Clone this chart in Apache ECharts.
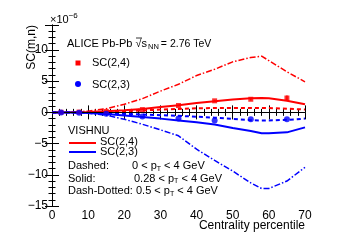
<!DOCTYPE html>
<html><head><meta charset="utf-8">
<script src="https://cdn.jsdelivr.net/npm/echarts@6/dist/echarts.min.js"></script>
<style>html,body{margin:0;padding:0;background:#fff}#c{width:339px;height:243px}</style>
</head><body><div id="c"></div>
<script>
// ALICE data
const centrality = [2.5, 7.5, 15, 25, 35, 45, 55, 65];
const sc24 = [0.02, 0.05, 0.15, 0.45, 1.1, 1.85, 2.1, 2.3];
const sc24Err = [0.02, 0.03, 0.05, 0.08, 0.12, 0.15, 0.2, 0.4];
const sc23 = [0, -0.05, -0.2, -0.65, -1.0, -1.3, -1.1, -1.1];
// VISHNU model curves
const modelX = [0, 5, 10, 15, 20, 25, 30, 35, 40, 45, 50, 55, 58, 60, 65, 70];
const sc24DashDot = [0, 0.05, 0.2, 0.6, 1.3, 2.2, 3.4, 4.5, 5.9, 6.9, 8.1, 8.8, 9.0, 8.3, 6.5, 4.9];
const sc24Solid = [0, 0.02, 0.08, 0.2, 0.35, 0.55, 0.85, 1.15, 1.5, 1.8, 2.05, 2.25, 2.3, 2.25, 1.85, 1.3];
const sc24Dashed = [0, 0.01, 0.05, 0.12, 0.2, 0.3, 0.45, 0.55, 0.65, 0.7, 0.72, 0.72, 0.71, 0.7, 0.6, 0.45];
const sc23Dashed = [0, -0.01, -0.05, -0.12, -0.25, -0.35, -0.45, -0.55, -0.7, -0.85, -1.05, -1.25, -1.3, -1.3, -1.2, -1.0];
const sc23Solid = [0, -0.02, -0.1, -0.25, -0.5, -0.75, -1.0, -1.3, -1.6, -1.95, -2.5, -3.0, -3.35, -3.35, -3.2, -2.4];
const sc23DashDot = [0, -0.02, -0.15, -0.45, -1.1, -1.9, -2.8, -3.75, -5.9, -7.7, -9.4, -11.3, -12.2, -12.2, -11.0, -8.8];
const xTicks = [0, 10, 20, 30, 40, 50, 60, 70];
const yTicks = [-15, -10, -5, 0, 5, 10];

const RED = '#ff0000', BLUE = '#0000ff';
const FONT = 'Liberation Sans';
const pairs = (xs, ys) => xs.map((x, i) => [x, ys[i]]);
const DASH = [4, 3], DASHDOT = [6, 2, 1.5, 2];

function axisCommon(showLabel) {
  return {
    axisLine: {show: true, lineStyle: {color: '#000', width: 1}},
    axisTick: {show: true, inside: true, length: 7, lineStyle: {color: '#000'}},
    minorTick: {show: true, splitNumber: 5, length: 3.5, lineStyle: {color: '#000'}},
    splitLine: {show: false},
    axisLabel: {show: showLabel, color: '#000', fontFamily: FONT, fontSize: 12},
  };
}
const yFmt = v => (yTicks.includes(v) ? String(v).replace('-', '\u2212') : '');
const xFmt = v => (xTicks.includes(v) ? String(v) : '');

function lineSeries(ys, color, type, width) {
  return {type: 'line', data: pairs(modelX, ys), symbol: 'none', smooth: false,
    lineStyle: {color: color, type: type, width: width}, z: 3, silent: true};
}

const chart = echarts.init(document.getElementById('c'), null, {renderer: 'canvas'});
chart.setOption({
  animation: false,
  grid: {left: 52, right: 34, top: 25, bottom: 37},
  xAxis: [
    Object.assign(axisCommon(true), {type: 'value', min: 0, max: 70, interval: 10, position: 'bottom',
      axisLabel: {show: true, color: '#000', fontFamily: FONT, fontSize: 12, margin: 4, formatter: xFmt}}),
    Object.assign(axisCommon(false), {type: 'value', min: 0, max: 70, interval: 10, position: 'top'})
  ],
  yAxis: [
    Object.assign(axisCommon(true), {type: 'value', min: -15, max: 14, interval: 5, position: 'left',
      axisLabel: {show: true, color: '#000', fontFamily: FONT, fontSize: 12, margin: 4, formatter: yFmt, showMaxLabel: false}}),
    Object.assign(axisCommon(false), {type: 'value', min: -15, max: 14, interval: 5, position: 'right'})
  ],
  series: [
    {type: 'line', data: [], markLine: {silent: true, symbol: 'none', label: {show: false},
      lineStyle: {color: '#000', type: 'solid', width: 1}, data: [{yAxis: 0}]}},
    lineSeries(sc24DashDot, RED, DASHDOT, 1.5),
    lineSeries(sc24Solid, RED, 'solid', 2),
    lineSeries(sc24Dashed, RED, DASH, 2),
    lineSeries(sc23Dashed, BLUE, DASH, 2),
    lineSeries(sc23Solid, BLUE, 'solid', 2),
    lineSeries(sc23DashDot, BLUE, DASHDOT, 1.5),
    {type: 'custom', silent: true, z: 4,
      data: centrality.map((x, i) => [x, sc24[i] - sc24Err[i], sc24[i] + sc24Err[i]]),
      renderItem: (params, api) => {
        const lo = api.coord([api.value(0), api.value(1)]);
        const hi = api.coord([api.value(0), api.value(2)]);
        return {type: 'line', shape: {x1: lo[0], y1: lo[1], x2: hi[0], y2: hi[1]},
          style: {stroke: RED, lineWidth: 1.5}};
      }},
    {type: 'scatter', data: pairs(centrality, sc24), symbol: 'rect', symbolSize: 5,
      itemStyle: {color: RED}, z: 5, silent: true},
    {type: 'scatter', data: pairs(centrality, sc23), symbol: 'circle', symbolSize: 6,
      itemStyle: {color: BLUE}, z: 5, silent: true}
  ],
  graphic: [
    // axis titles
    {type: 'text', x: 305, y: 226, style: {text: 'Centrality percentile', font: '12px "Liberation Sans"',
      fill: '#000', align: 'right', verticalAlign: 'middle'}},
    {type: 'text', x: 32, y: 25, rotation: Math.PI / 2, style: {text: 'SC(m,n)', font: '12px "Liberation Sans"',
      fill: '#000', align: 'right', verticalAlign: 'middle'}},
    {type: 'text', x: 50, y: 20, style: {text: '\u00d710{s|\u22126}', fill: '#000', verticalAlign: 'middle',
      font: '11px "Liberation Sans"', rich: {s: {fontSize: 8, fontFamily: FONT, verticalAlign: 'top', padding: [0, 0, 8, 0]}}}},
    // ALICE header
    {type: 'text', x: 67, y: 44, style: {text: 'ALICE Pb-Pb \u221a{i|s}{sub|NN}{b|= 2.76 TeV}', fill: '#000',
      verticalAlign: 'middle', font: '11px "Liberation Sans"',
      rich: {i: {fontSize: 11, fontFamily: FONT},
             sub: {fontSize: 7.5, fontFamily: FONT, padding: [6, 2, 0, 1]},
             b: {fontSize: 10.5, fontFamily: FONT}}}},
    {type: 'line', shape: {x1: 136, y1: 38, x2: 142, y2: 38}, style: {stroke: '#000', lineWidth: 0.8}},
    {type: 'rect', shape: {x: 75.5, y: 60.5, width: 5, height: 5}, style: {fill: RED}},
    {type: 'text', x: 92, y: 63, style: {text: 'SC(2,4)', fill: '#000', verticalAlign: 'middle', font: '11px "Liberation Sans"'}},
    {type: 'circle', shape: {cx: 78, cy: 84, r: 3}, style: {fill: BLUE}},
    {type: 'text', x: 92, y: 85, style: {text: 'SC(2,3)', fill: '#000', verticalAlign: 'middle', font: '11px "Liberation Sans"'}},
    // VISHNU legend
    {type: 'text', x: 68, y: 131, style: {text: 'VISHNU', fill: '#000', verticalAlign: 'middle', font: '11px "Liberation Sans"'}},
    {type: 'line', shape: {x1: 69, y1: 143, x2: 96, y2: 143}, style: {stroke: RED, lineWidth: 2}},
    {type: 'text', x: 100, y: 142, style: {text: 'SC(2,4)', fill: '#000', verticalAlign: 'middle', font: '11px "Liberation Sans"'}},
    {type: 'line', shape: {x1: 69, y1: 152, x2: 96, y2: 152}, style: {stroke: BLUE, lineWidth: 2}},
    {type: 'text', x: 100, y: 152, style: {text: 'SC(2,3)', fill: '#000', verticalAlign: 'middle', font: '11px "Liberation Sans"'}},
    {type: 'text', x: 68, y: 166, style: {text: 'Dashed:', fill: '#000', verticalAlign: 'middle', font: '11px "Liberation Sans"'}},
    {type: 'text', x: 68, y: 178.5, style: {text: 'Solid:', fill: '#000', verticalAlign: 'middle', font: '11px "Liberation Sans"'}},
    {type: 'text', x: 68, y: 191, style: {text: 'Dash-Dotted:', fill: '#000', verticalAlign: 'middle', font: '11px "Liberation Sans"'}},
    {type: 'text', x: 132, y: 166, style: {text: '0 < p{sub|T} < 4 GeV', fill: '#000', verticalAlign: 'middle',
      font: '11px "Liberation Sans"', rich: {sub: {fontSize: 7, fontFamily: FONT, padding: [6, 0, 0, 0]}}}},
    {type: 'text', x: 134, y: 178.5, style: {text: '0.28 < p{sub|T} < 4 GeV', fill: '#000', verticalAlign: 'middle',
      font: '11px "Liberation Sans"', rich: {sub: {fontSize: 7, fontFamily: FONT, padding: [6, 0, 0, 0]}}}},
    {type: 'text', x: 136, y: 191, style: {text: '0.5 < p{sub|T} < 4 GeV', fill: '#000', verticalAlign: 'middle',
      font: '11px "Liberation Sans"', rich: {sub: {fontSize: 7, fontFamily: FONT, padding: [6, 0, 0, 0]}}}}
  ]
});
</script></body></html>
